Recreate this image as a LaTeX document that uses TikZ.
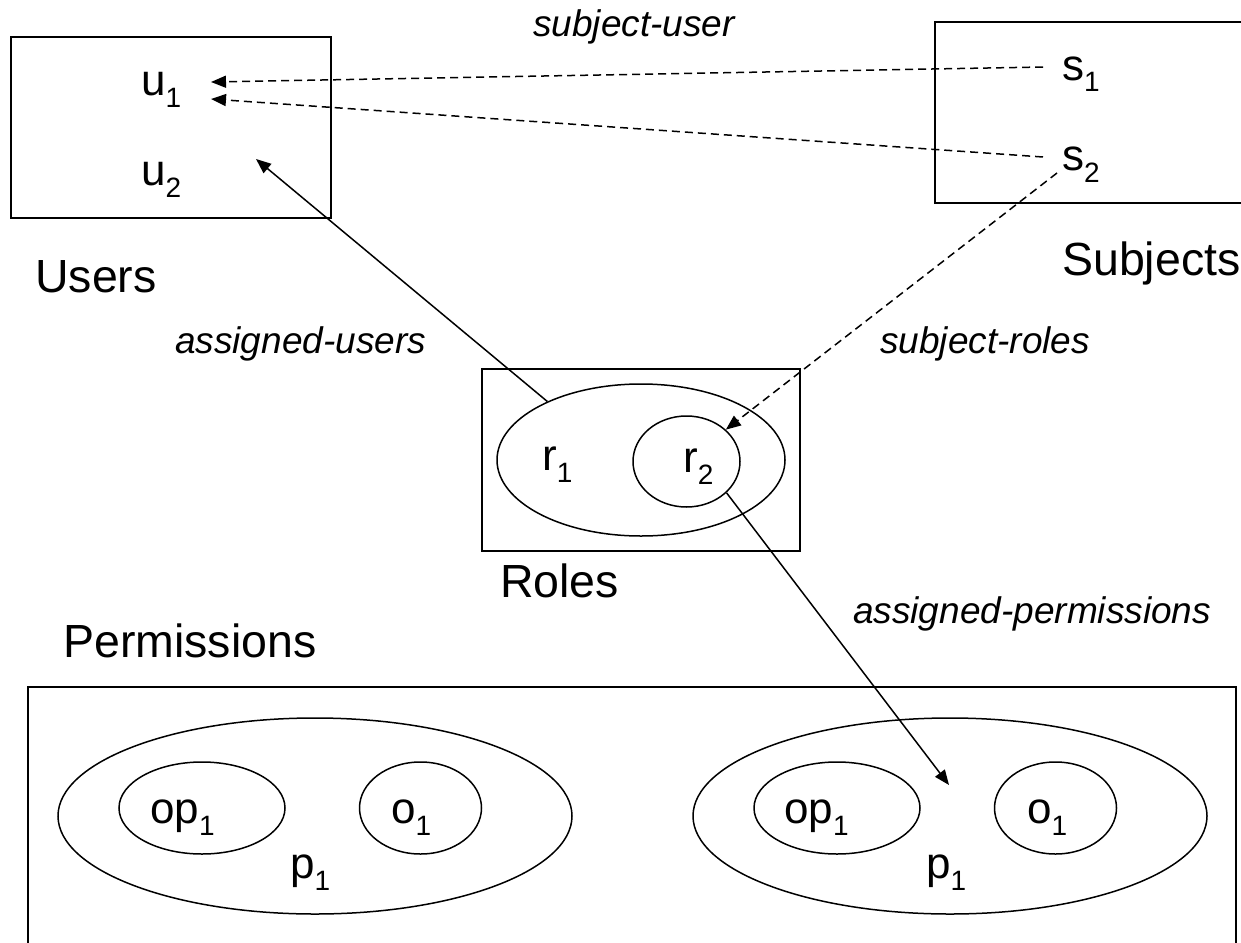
\documentclass[tikz,border=0pt]{standalone}
\usepackage{fontspec}
\setmainfont{Liberation Sans}
\usetikzlibrary{arrows.meta,shapes.geometric}
\newcommand{\lsub}[1]{\raisebox{-12pt}{\fontsize{28}{30}\selectfont #1}}
\begin{document}
\begin{tikzpicture}[x=1pt,y=-1pt,
  big/.style={font=\fontsize{46.5}{50}\selectfont, inner sep=0pt, anchor=base west},
  elem/.style={font=\fontsize{44}{48}\selectfont, inner sep=0pt, anchor=base west},
  rel/.style={font=\fontsize{37}{40}\selectfont\itshape, inner sep=0pt, anchor=base west},
  box/.style={draw, line width=1.6pt, inner sep=0pt},
  set/.style={draw, ellipse, line width=1.5pt, inner sep=0pt},
  link/.style={line width=1.5pt, -{Triangle[length=15pt,width=12pt]}},
  dlink/.style={link, dash pattern=on 8pt off 5pt},
]
\clip (0,0) rectangle (1241,942);
\fill[white] (0,0) rectangle (1241,942);

% boxes
\node[box, minimum width=320pt, minimum height=181pt] (usersbox) at (171,127.5) {};
\node[box, minimum width=325pt, minimum height=181pt] (subjbox) at (1097.5,112.5) {};
\node[box, minimum width=318pt, minimum height=182pt] (rolesbox) at (641,460) {};
\node[box, minimum width=1208pt, minimum height=273pt] (permbox) at (632,823.5) {};

% box titles
\node[big] (userst) at (35,292) {Users};
\node[big] (subjt) at (1062,275) {Subjects};
\node[big] (rolest) at (500,597) {Roles};
\node[big] (permt) at (63,657) {Permissions};

% users and subjects
\node[elem] (u1) at (141,95) {u\lsub{1}};
\node[elem] (u2) at (141,185) {u\lsub{2}};
\node[elem] (s1) at (1062,80) {s\lsub{1}};
\node[elem] (s2) at (1062,170) {s\lsub{2}};

% roles
\node[set, minimum width=288pt, minimum height=152pt] (r1) at (641,460) {};
\node[set, minimum width=107pt, minimum height=91pt] (r2) at (686.5,461.5) {};
\node[elem] (r1t) at (542,470) {r\lsub{1}};
\node[elem] (r2t) at (683,472) {r\lsub{2}};

% permissions
\node[set, minimum width=514pt, minimum height=196pt] (p1L) at (315,816) {};
\node[set, minimum width=166pt, minimum height=92pt] (op1L) at (202,808) {};
\node[set, minimum width=122pt, minimum height=92pt] (o1L) at (420.5,808) {};
\node[elem] (op1Lt) at (150,823) {op\lsub{1}};
\node[elem] (o1Lt) at (391,823) {o\lsub{1}};
\node[elem] (p1Lt) at (290,878) {p\lsub{1}};

\node[set, minimum width=514pt, minimum height=196pt] (p1R) at (950,816) {};
\node[set, minimum width=166pt, minimum height=92pt] (op1R) at (837,808) {};
\node[set, minimum width=122pt, minimum height=92pt] (o1R) at (1055.5,808) {};
\node[elem] (op1Rt) at (784,823) {op\lsub{1}};
\node[elem] (o1Rt) at (1027,823) {o\lsub{1}};
\node[elem] (p1Rt) at (926,878) {p\lsub{1}};

% relation labels
\node[rel] (lsu) at (533,37) {subject-user};
\node[rel] (lau) at (175,353) {assigned-users};
\node[rel] (lsr) at (880,353) {subject-roles};
\node[rel] (lap) at (853,623) {assigned-permissions};

% connector ends
\coordinate (u1inA) at (211,82);
\coordinate (u1inB) at (211,99);
\coordinate (s1out) at (1043,67);
\coordinate (s2out) at (1043,157);
\coordinate (s2down) at (1057,173);
\coordinate (uin) at (256,159);
\coordinate (pin) at (949,785);

% connectors
\draw[dlink] (s1out) -- (u1inA);
\draw[dlink] (s2out) -- (u1inB);
\draw[dlink] (s2down) -- (r2.39);
\draw[link] (r1.148) -- (uin);
\draw[link] (r2.-38) -- (pin);
\end{tikzpicture}
\end{document}
